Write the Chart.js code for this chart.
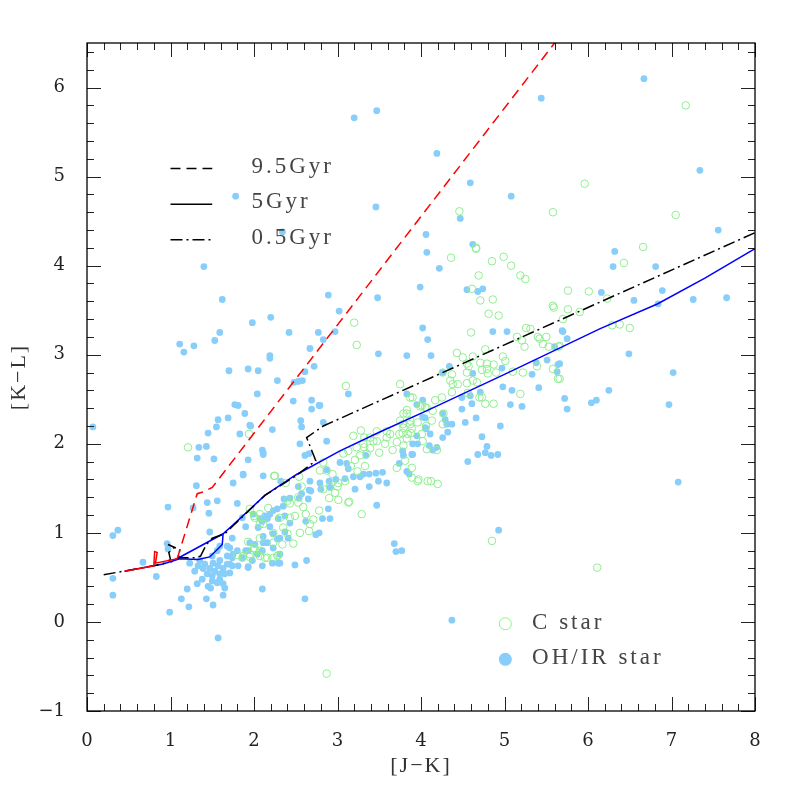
<!DOCTYPE html>
<html>
<head>
<meta charset="utf-8">
<script src="https://cdn.jsdelivr.net/npm/chart.js@4.4.1/dist/chart.umd.min.js"></script>
<style>
  html, body { margin: 0; padding: 0; background: #fff; }
  #wrap { width: 797px; height: 797px; }
</style>
</head>
<body>
<div id="wrap"><canvas id="cmd" width="797" height="797"></canvas></div>
<script>
// [J-K], [K-L] pairs

// isochrone tracks
const track95 = [[0.45,0.57],[0.80,0.63],[0.81,0.79],[0.84,0.78],[0.82,0.66],[1.08,0.71],[1.32,1.44],[1.39,1.46],[1.50,1.51],[5.60,6.50]];
const track5 = [[0.45,0.57],[0.91,0.65],[1.11,0.71],[1.33,0.70],[1.47,0.73],[1.62,0.87],[1.63,0.99],[1.00,0.67],[1.63,0.99],
  [1.75,1.09],[2.13,1.42],[2.50,1.65],[3.03,1.92],[3.50,2.13],[4.11,2.39],[5.00,2.78],[6.14,3.29],[6.83,3.57],[7.40,3.86],[8.00,4.19]];
const track05 = [[0.20,0.53],[0.50,0.58],[0.90,0.65],[1.00,0.70],[0.98,0.78],[1.05,0.84],[0.97,0.87],[1.11,0.81],[1.10,0.72],
  [1.30,0.72],[1.36,0.74],[1.43,0.87],[1.50,0.94],[1.65,0.99],[1.75,1.08],[2.13,1.42],[2.50,1.64],[2.74,1.81],[2.63,2.07],[2.83,2.20],[8.00,4.37]];

// C stars (open green circles)
const cStars = [
  [7.17,5.80],[5.96,4.92],[5.58,4.60],[4.46,4.61],[7.05,4.57],[4.66,4.20],[6.66,4.21],
  [6.43,4.03],[5.76,3.72],[6.01,3.71],[6.23,3.63],[5.76,3.51],[5.90,3.48],[5.70,3.40],[6.29,3.33],[6.38,3.34],[6.50,3.30],[5.66,3.10],[5.66,2.73],
  [4.36,4.09],[4.66,4.19],[4.99,4.10],[4.85,4.05],[5.08,4.00],[4.69,3.89],[5.19,3.89],[5.25,3.85],[4.61,3.74],[4.71,3.61],[4.86,3.62],[4.81,3.46],[4.93,3.44],
  [5.58,3.55],[5.59,3.53],[4.60,3.25],[5.26,3.30],[5.31,3.29],[5.15,3.20],[5.21,3.16],[5.24,3.09],[5.40,3.20],[5.42,3.18],[5.50,3.20],[5.46,3.12],[5.53,3.09],
  [5.65,3.09],[4.77,3.06],[4.43,3.02],[4.50,2.97],[4.62,2.98],[4.98,2.98],[5.01,2.93],[4.71,2.91],[4.79,2.90],[4.87,2.89],[4.55,2.90],[4.57,2.87],[4.26,2.80],
  [4.37,2.78],[4.55,2.80],[4.62,2.71],[4.73,2.83],[4.80,2.79],[4.90,2.80],[4.79,2.84],[5.10,2.81],[5.22,2.80],[5.39,2.87],[5.58,2.84],[5.64,2.73],[4.35,2.71],
  [4.38,2.67],[4.44,2.67],[4.55,2.68],[4.67,2.69],[4.37,2.58],[4.56,2.57],[4.73,2.52],[5.19,2.56],[4.25,2.52],[3.75,2.67],[3.87,2.52],[3.90,2.52],
  [4.87,2.45],[4.77,2.45],[4.70,2.52],[4.17,2.49],[3.99,2.42],[4.05,2.41],[4.14,2.37],[3.83,2.38],[3.79,2.34],[4.27,2.34],[4.26,2.22],[4.13,2.26],[4.06,2.20],
  [3.87,2.22],[3.79,2.18],[3.84,2.11],[3.88,2.12],[3.83,2.06],[3.79,1.98],[4.19,1.93],[3.81,1.81],[3.89,1.62],[3.96,1.58],[4.12,1.58],[4.20,1.55],[4.85,0.91],
  [6.11,0.61],[3.83,2.34],
  [1.94,2.11],[2.25,1.64],[2.54,1.63],[2.38,1.56],[2.57,1.52],[2.79,1.70],[2.94,1.66],[2.91,1.52],[2.83,1.49],[3.00,1.52],[2.97,1.45],[3.01,1.37],[3.13,1.34],
  [3.29,1.21],[2.90,1.39],[2.78,1.25],[2.62,1.21],[2.59,1.29],[2.53,1.40],[2.53,1.34],[2.43,1.33],[2.40,1.36],[2.17,1.28],[2.00,1.19],[1.95,1.27],[2.07,1.21],
  [2.31,1.17],[2.43,1.17],[2.49,1.19],[2.11,1.10],[2.35,1.06],[2.55,1.00],[2.66,1.02],[2.40,0.99],[2.47,0.88],[2.34,0.87],[2.23,0.89],[2.07,0.94],[2.00,0.83],
  [1.95,0.76],[2.07,0.74],[2.16,0.72],[2.29,0.75],[1.80,0.75],[1.86,0.72],[2.67,1.10],[2.71,1.15],[3.01,1.56],[3.09,1.58],[3.16,1.75],[3.21,1.82],[3.27,1.87],
  [3.35,1.89],[3.23,1.96],[3.31,2.00],[3.32,1.96],[3.39,1.95],[3.43,2.03],[3.47,2.03],[3.50,1.90],[3.57,2.00],[3.59,2.07],[3.63,2.11],[3.66,1.93],[3.71,2.02],
  [3.74,2.11],[3.78,2.12],[3.75,2.26],[3.78,2.22],[3.87,2.26],[3.89,2.17],[3.96,2.24],[4.01,2.11],[4.02,2.03],[4.07,1.94],[4.07,2.40],[4.01,2.43],[3.59,2.14],
  [3.47,2.14],[3.39,2.07],[3.71,1.73],[3.89,1.73],[3.97,1.60],[4.08,1.58],[3.33,1.75],[3.24,1.69],[2.83,1.79],[3.07,1.89],[3.13,1.92],[3.28,2.15],[3.19,2.09],
  [3.32,2.07],[2.24,1.64],[2.01,1.17],[2.07,1.10],[2.23,1.00],[1.93,0.90],[2.01,0.82],[2.07,0.80],[2.13,0.72],[1.87,0.74],[1.95,0.73],[2.28,0.74],[1.21,1.96],
  [3.10,2.65],[2.87,-0.58],[3.14,1.35],[2.87,1.70],[2.23,0.72],[3.20,3.36],[3.23,3.11]
];

// OH/IR stars (filled blue dots)
const ohirStars = [
  [0.07,2.19],[0.31,0.97],[0.37,1.03],[0.31,0.49],[0.31,0.30],
  [1.11,3.12],[1.16,3.03],[1.28,3.10],[1.40,3.99],[1.62,3.62],[1.78,4.78],[2.34,4.38],[3.20,5.66],[3.47,5.74],[3.46,4.66],[4.19,5.26],[5.44,5.88],
  [6.67,6.10],[7.34,5.07],[7.56,4.40],[4.59,4.93],[4.47,4.53],[5.08,4.78],[4.06,4.35],[4.62,4.24],[6.32,4.16],[4.07,4.15],
  [6.30,3.99],[6.81,3.99],[6.16,3.70],[6.89,3.72],[6.55,3.61],[6.84,3.57],[7.26,3.62],[7.66,3.64],[5.70,3.26],[5.75,3.18],[6.49,3.01],[7.02,2.80],
  [6.25,2.60],[5.72,2.51],[6.10,2.49],[5.66,2.90],[6.97,2.44],[7.08,1.57],
  [4.22,3.97],[3.99,3.76],[4.55,3.73],[4.68,3.71],[4.74,3.74],[4.02,3.30],[4.08,3.17],[3.83,2.99],[4.12,2.99],[4.86,3.26],[5.03,3.26],[5.69,3.27],
  [5.60,3.09],[5.51,2.94],[5.64,2.89],[5.63,2.81],[5.38,2.91],[5.33,2.78],[4.97,2.85],[4.62,2.79],[4.34,2.87],[4.26,2.80],[4.98,2.64],[5.09,2.60],
  [5.41,2.63],[4.71,2.58],[4.59,2.54],
  [5.75,2.39],[6.04,2.46],[5.07,2.44],[5.21,2.42],[4.49,2.52],[4.49,2.39],[4.61,2.45],[4.66,2.29],[4.53,2.24],[4.95,2.20],[4.73,2.08],[4.79,1.97],
  [4.77,1.90],[4.68,1.88],[4.84,1.87],[4.92,1.88],[4.56,1.80],[4.93,1.03],[3.77,0.80],[4.02,2.49],[3.95,2.44],[4.26,2.34],[4.05,2.29],[4.29,2.27],
  [4.31,2.22],[4.37,2.22],[4.05,2.18],[4.32,2.13],[4.11,2.11],[4.26,2.07],[3.96,2.00],[4.10,1.98],[4.14,1.93],[4.19,1.96],[3.90,1.88],[3.79,1.87],
  [3.86,1.66],[3.83,2.56],[4.37,0.02],[2.63,0.69],[3.47,1.31],[3.38,1.52],[3.21,1.49],
  [1.77,2.44],[1.89,2.34],[1.96,2.20],[1.83,2.11],[2.22,2.16],[2.56,2.26],[2.57,2.19],[2.69,2.39],[2.78,2.43],[2.55,2.00],[2.87,2.03],[2.66,1.89],
  [2.61,1.87],[2.10,1.93],[2.11,1.88],[1.93,1.82],[1.87,1.66],[2.11,1.64],[1.75,1.56],[2.32,1.58],[2.53,1.52],[3.03,1.79],[3.11,1.78],[3.13,1.72],
  [3.34,1.87],[3.31,1.66],[3.38,1.66],[3.46,1.67],[3.54,1.68],[3.78,1.92],[3.89,1.88],[3.74,1.78],[3.83,1.69],[4.06,2.17],[3.95,2.09],[3.90,2.00],
  [4.02,2.30],[2.87,1.71],[2.67,1.58],[2.79,1.56],[2.90,1.58],[2.98,1.60],[3.09,1.61],[3.19,1.63],[3.27,1.63],[2.91,1.51],[2.80,1.49],[2.68,1.47],
  [2.57,1.44],[2.36,1.38],[2.43,1.39],[2.54,1.39],[2.65,1.38],[2.28,1.27],[2.35,1.30],[2.23,1.25],[2.19,1.21],[2.13,1.19],[2.07,1.16],[2.16,1.16],
  [2.05,1.06],[2.19,1.07],[2.29,1.16],[2.37,1.19],[2.43,1.11],[2.37,1.01],[2.41,0.94],[2.23,0.99],[2.31,0.94],[2.11,0.96],[2.11,0.89],[2.66,1.48],
  [2.89,1.27],[2.91,1.16],[2.82,1.16],[2.62,1.13],[2.78,1.00],[2.74,0.98],[1.95,0.89],[2.01,0.87],[1.90,0.80],[1.86,0.72],[1.75,0.76],[1.93,0.62],
  [2.10,0.63],[2.29,0.66],[2.49,0.64],[2.10,0.37],[2.61,0.26],[3.49,1.58],[3.59,1.56],[3.68,0.88],[3.70,0.79],[1.71,0.83],[1.71,0.65],
  [1.32,1.84],[1.52,1.83],[2.11,1.90],[1.87,1.65],[1.31,1.53],[1.44,1.34],[1.56,1.36],[1.80,1.33],[1.46,1.22],[1.27,1.28],[0.97,1.29],[1.86,1.17],
  [1.90,1.07],[1.99,1.21],[2.10,1.13],[1.47,1.01],[0.96,0.88],[0.97,0.82],[0.67,0.67],[0.83,0.51],[1.20,0.37],[1.13,0.26],[1.22,0.17],[0.99,0.11],
  [1.57,-0.18],[1.32,0.43],[1.43,0.26],[1.51,0.19],[1.63,0.30],[1.65,0.38],[1.48,0.38],[1.23,0.66],[1.33,0.63],
  [1.68,0.74],[1.74,0.63],[1.65,0.54],[1.53,0.57],[1.44,0.54],[1.38,0.48],[1.50,0.46],[1.59,0.48],[1.41,0.65],[1.51,0.66],[1.59,0.69],[1.68,0.65],
  [1.74,0.72],[1.81,0.63],[1.93,0.61],[2.22,0.66],[1.93,0.80],[1.80,0.80],[1.56,0.80],[1.50,0.74],[1.35,0.69],[1.29,0.57],[1.56,0.44],[1.45,0.40],
  [1.63,0.43],[1.57,0.63],[1.63,0.60],[1.47,0.60],[1.39,0.60],[1.71,0.55],[1.59,0.54],[1.50,0.52],[1.68,0.85],[1.59,0.85],[1.98,0.69],[2.04,0.76],
  [2.31,0.76],[2.31,0.66],[2.23,0.83],[2.28,0.93],[2.16,0.89],[2.10,0.80],[1.74,0.94],
  [2.89,3.67],[3.02,3.49],[1.98,3.36],[2.20,3.42],[1.59,3.25],[1.53,3.16],[2.42,3.25],[2.77,3.25],[2.83,3.17],[2.97,3.26],[2.67,3.07],[2.19,2.99],
  [2.19,2.96],[1.70,2.82],[1.93,2.84],[2.05,2.82],[2.72,2.87],[2.61,2.81],[2.28,2.71],[2.48,2.69],[2.53,2.70],[2.58,2.71],[2.04,2.56],[2.47,2.48],
  [2.69,2.49],[2.79,2.43],[1.81,2.43],[1.57,2.27],[1.69,2.29],[1.55,2.19],[1.45,2.12],[1.95,2.21],[2.83,2.24],[1.34,1.96],[1.43,1.97],[3.13,2.56],
  [3.49,3.01],[3.48,3.64]
];

const xTicks = [0, 1, 2, 3, 4, 5, 6, 7, 8];
const yTicks = [-1, 0, 1, 2, 3, 4, 5, 6];
const trackNames = ['9.5Gyr', '5Gyr', '0.5Gyr'];
const starNames = ['C star', 'OH/IR star'];

const BLUE_PT = 'rgb(135,206,250)';
const GREEN_PT = 'rgb(144,238,144)';
const DASH = [10, 6];
const DASHDOT = [12, 4, 2, 4];

const toXY = arr => arr.map(p => ({ x: p[0], y: p[1] }));

// frame, inward ticks, axis titles, legend
const framePlugin = {
  id: 'frame',
  afterDraw(chart) {
    const { ctx, chartArea: a, scales: { x, y } } = chart;
    ctx.save();
    ctx.strokeStyle = '#222';
    ctx.lineWidth = 1;
    // minor + major ticks on all four sides
    for (let i = 0; i <= 40; i++) {
      const v = i * 0.2;
      const px = Math.round(x.getPixelForValue(v)) + 0.5;
      const len = i % 5 === 0 ? 14 : 7;
      ctx.beginPath();
      ctx.moveTo(px, a.bottom); ctx.lineTo(px, a.bottom - len);
      ctx.moveTo(px, a.top); ctx.lineTo(px, a.top + len);
      ctx.stroke();
    }
    for (let i = 0; i <= 37; i++) {
      const v = -1 + i * 0.2;
      const py = Math.round(y.getPixelForValue(v)) + 0.5;
      const len = i % 5 === 0 ? 14 : 7;
      ctx.beginPath();
      ctx.moveTo(a.left, py); ctx.lineTo(a.left + len, py);
      ctx.moveTo(a.right, py); ctx.lineTo(a.right - len, py);
      ctx.stroke();
    }
    ctx.lineWidth = 1.3;
    ctx.strokeStyle = '#000';
    ctx.strokeRect(a.left, a.top, a.right - a.left, a.bottom - a.top);

    // axis titles
    ctx.fillStyle = '#333';
    ctx.font = '22px "Liberation Serif"';
    ctx.letterSpacing = '2px';
    ctx.textAlign = 'center';
    ctx.textBaseline = 'middle';
    ctx.fillText('[J\u2212K]', (a.left + a.right) / 2, 766);
    ctx.save();
    ctx.translate(19, (a.top + a.bottom) / 2);
    ctx.rotate(-Math.PI / 2);
    ctx.fillText('[K\u2212L]', 0, 0);
    ctx.restore();

    // track legend
    const styles = [DASH, [], DASHDOT];
    const ly = [5.09, 4.69, 4.29];
    ctx.font = '23px "Liberation Serif"';
    ctx.letterSpacing = '3px';
    ctx.textAlign = 'left';
    ctx.fillStyle = '#444';
    trackNames.forEach((name, i) => {
      const py = y.getPixelForValue(ly[i]);
      ctx.beginPath();
      ctx.setLineDash(styles[i]);
      ctx.lineWidth = 1.5;
      ctx.strokeStyle = '#000';
      ctx.moveTo(x.getPixelForValue(1.0), py);
      ctx.lineTo(x.getPixelForValue(1.5), py);
      ctx.stroke();
      ctx.setLineDash([]);
      ctx.fillText(name, x.getPixelForValue(1.97), py - 2);
    });

    // star legend
    const sy = [-0.02, -0.42];
    starNames.forEach((name, i) => {
      const px = x.getPixelForValue(5.01);
      const py = y.getPixelForValue(sy[i]);
      ctx.beginPath();
      ctx.arc(px, py, i === 0 ? 6 : 6.5, 0, Math.PI * 2);
      if (i === 0) { ctx.lineWidth = 1; ctx.strokeStyle = GREEN_PT; ctx.stroke(); }
      else { ctx.fillStyle = BLUE_PT; ctx.fill(); }
      ctx.fillStyle = '#444';
      ctx.fillText(name, x.getPixelForValue(5.33), py - 1);
    });
    ctx.restore();
  }
};

const tickLabel = v => {
  if (!Number.isInteger(v)) return null;
  return v < 0 ? '\u2212' + Math.abs(v) : String(v);
};

new Chart(document.getElementById('cmd'), {
  type: 'scatter',
  data: {
    datasets: [
      {
        type: 'line', label: trackNames[0], data: toXY(track95),
        borderColor: 'rgb(255,0,0)', borderWidth: 1.5, pointRadius: 0, tension: 0, fill: false,
        segment: { borderDash: c => (c.p0.parsed.x < 1.08 ? [] : DASH) }
      },
      {
        type: 'line', label: trackNames[2], data: toXY(track05),
        borderColor: '#000', borderWidth: 1.5, borderDash: DASHDOT, pointRadius: 0, tension: 0, fill: false
      },
      {
        type: 'line', label: trackNames[1], data: toXY(track5),
        borderColor: 'rgb(0,0,255)', borderWidth: 1.5, pointRadius: 0, tension: 0, fill: false
      },
      {
        label: starNames[0], data: toXY(cStars),
        pointRadius: 3.8, pointBorderWidth: 1, borderColor: GREEN_PT, backgroundColor: 'rgba(0,0,0,0)'
      },
      {
        label: starNames[1], data: toXY(ohirStars),
        pointRadius: 3.4, pointBorderWidth: 0, borderColor: BLUE_PT, backgroundColor: BLUE_PT
      }
    ]
  },
  options: {
    responsive: false,
    animation: false,
    devicePixelRatio: 1,
    layout: { padding: { top: 43, right: 42, left: 0, bottom: 0 } },
    plugins: { legend: { display: false }, tooltip: { enabled: false } },
    scales: {
      x: {
        type: 'linear', min: 0, max: 8,
        grid: { display: false }, border: { display: false },
        afterFit: s => { s.height = 86; },
        afterBuildTicks: s => { s.ticks = xTicks.map(v => ({ value: v })); },
        ticks: { callback: tickLabel, padding: 12, color: '#222', font: { family: 'DejaVu Serif', size: 18 }, maxRotation: 0 }
      },
      y: {
        type: 'linear', min: -1, max: 6.5,
        grid: { display: false }, border: { display: false },
        afterFit: s => { s.width = 87; },
        afterBuildTicks: s => { s.ticks = yTicks.map(v => ({ value: v })); },
        ticks: { callback: tickLabel, padding: 14, color: '#222', font: { family: 'DejaVu Serif', size: 18 } }
      }
    }
  },
  plugins: [framePlugin]
});
</script>
</body>
</html>
